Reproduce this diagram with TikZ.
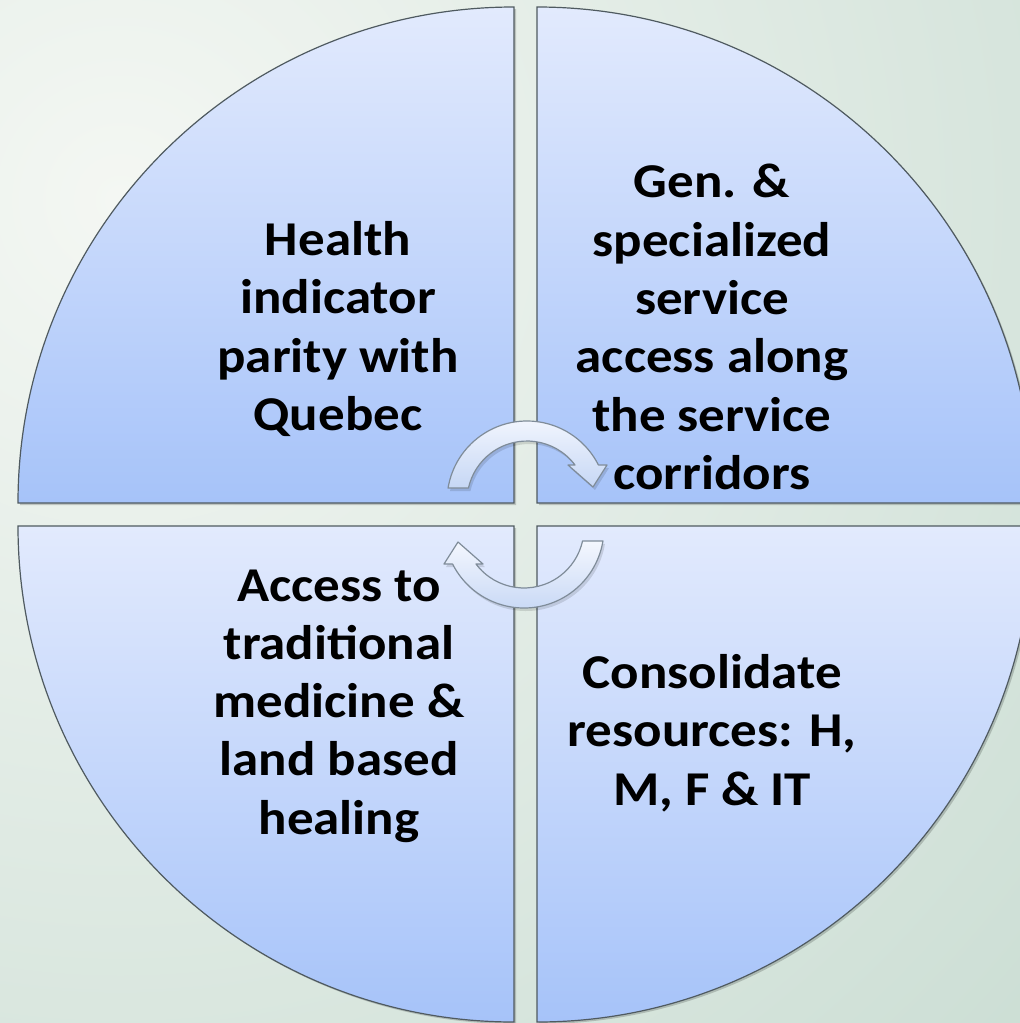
\documentclass[tikz,border=0pt]{standalone}
\usepackage{fontspec}
\setmainfont[FakeStretch=1.09]{Carlito}
\usetikzlibrary{calc}

\definecolor{bgGreen}{HTML}{CADDD3}
\definecolor{bgLight}{HTML}{F4F7F3}
\definecolor{quadTop}{HTML}{E2EAFD}
\definecolor{quadBot}{HTML}{A6C3F9}
\definecolor{edgeGray}{HTML}{4F5A60}
\definecolor{arrowTop}{HTML}{F4F7FE}
\definecolor{arrowBot}{HTML}{C6D7F5}
\definecolor{arrowEdge}{HTML}{7F8C99}

\tikzset{
  quad/.style={top color=quadTop, bottom color=quadBot, draw=edgeGray, line width=0.6pt},
  quadshadow/.style={fill=black, opacity=0.18},
  cyclearrow/.style={top color=arrowTop, bottom color=arrowBot, draw=arrowEdge, line width=0.6pt, line join=round},
  arrowshadow/.style={fill=black, opacity=0.12},
  label/.style={align=center, text=black, inner sep=0pt,
    font=\bfseries\fontsize{24.3}{29.15}\selectfont}
}

\begin{document}
\begin{tikzpicture}[x=0.5pt, y=-0.5pt]
  % canvas
  \useasboundingbox (0,0) rectangle (1020,1023);
  \clip (0,0) rectangle (1020,1023);
  \fill[bgGreen] (0,0) rectangle (1020,1023);
  \shade[inner color=bgLight, outer color=bgGreen] (120,200) circle[radius=1300];

  % soft shadows under the four quarters
  \fill[quadshadow] (516,505) -- (20,505) arc[start angle=180, end angle=270, radius=496] -- cycle;
  \fill[quadshadow] (539,505) -- (539,9) arc[start angle=270, end angle=360, radius=496] -- cycle;
  \fill[quadshadow] (516,528) -- (20,528) arc[start angle=180, end angle=90, radius=496] -- cycle;
  \fill[quadshadow] (539,528) -- (1035,528) arc[start angle=0, end angle=90, radius=496] -- cycle;

  % the four quarters of the circle
  \path[quad] (514,503) -- (18,503) arc[start angle=180, end angle=270, radius=496] -- cycle;
  \path[quad] (537,503) -- (537,7) arc[start angle=270, end angle=360, radius=496] -- cycle;
  \path[quad] (514,526) -- (18,526) arc[start angle=180, end angle=90, radius=496] -- cycle;
  \path[quad] (537,526) -- (1033,526) arc[start angle=0, end angle=90, radius=496] -- cycle;

  % quarter labels
  \node[label] (health) at (338,329) {Health\\indicator\\parity with\\Quebec};
  \node[label] (access) at (712,327) {Gen. \&\\specialized\\service\\access along\\the service\\corridors};
  \node[label] (medicine) at (339,706) {Access to\\traditional\\medicine \&\\land based\\healing};
  \node[label] (resources) at (712,733) {Consolidate\\resources: H,\\M, F \& IT};

  % upper circular arrow (clockwise, left to right)
  \begin{scope}[shift={(529,504)}]
    \fill[arrowshadow] (189.3:80) arc[start angle=189.3, end angle=333.2, radius=80]
      -- (80,-36) -- (66,-14) -- (41,-36) -- (48,-36)
      arc[start angle=323.1, end angle=192.5, radius=60] -- cycle;
  \end{scope}
  \begin{scope}[shift={(527,501)}]
    \path[cyclearrow] (189.3:80) arc[start angle=189.3, end angle=333.2, radius=80]
      -- (80,-36) -- (66,-14) -- (41,-36) -- (48,-36)
      arc[start angle=323.1, end angle=192.5, radius=60] -- cycle;
  \end{scope}

  % lower circular arrow (clockwise, right to left)
  \begin{scope}[shift={(526,531)}]
    \fill[arrowshadow] (9.3:80) arc[start angle=9.3, end angle=153.2, radius=80]
      -- (-80,36) -- (-66,14) -- (-41,36) -- (-48,36)
      arc[start angle=143.1, end angle=12.5, radius=60] -- cycle;
  \end{scope}
  \begin{scope}[shift={(524,528)}]
    \path[cyclearrow] (9.3:80) arc[start angle=9.3, end angle=153.2, radius=80]
      -- (-80,36) -- (-66,14) -- (-41,36) -- (-48,36)
      arc[start angle=143.1, end angle=12.5, radius=60] -- cycle;
  \end{scope}
\end{tikzpicture}
\end{document}
